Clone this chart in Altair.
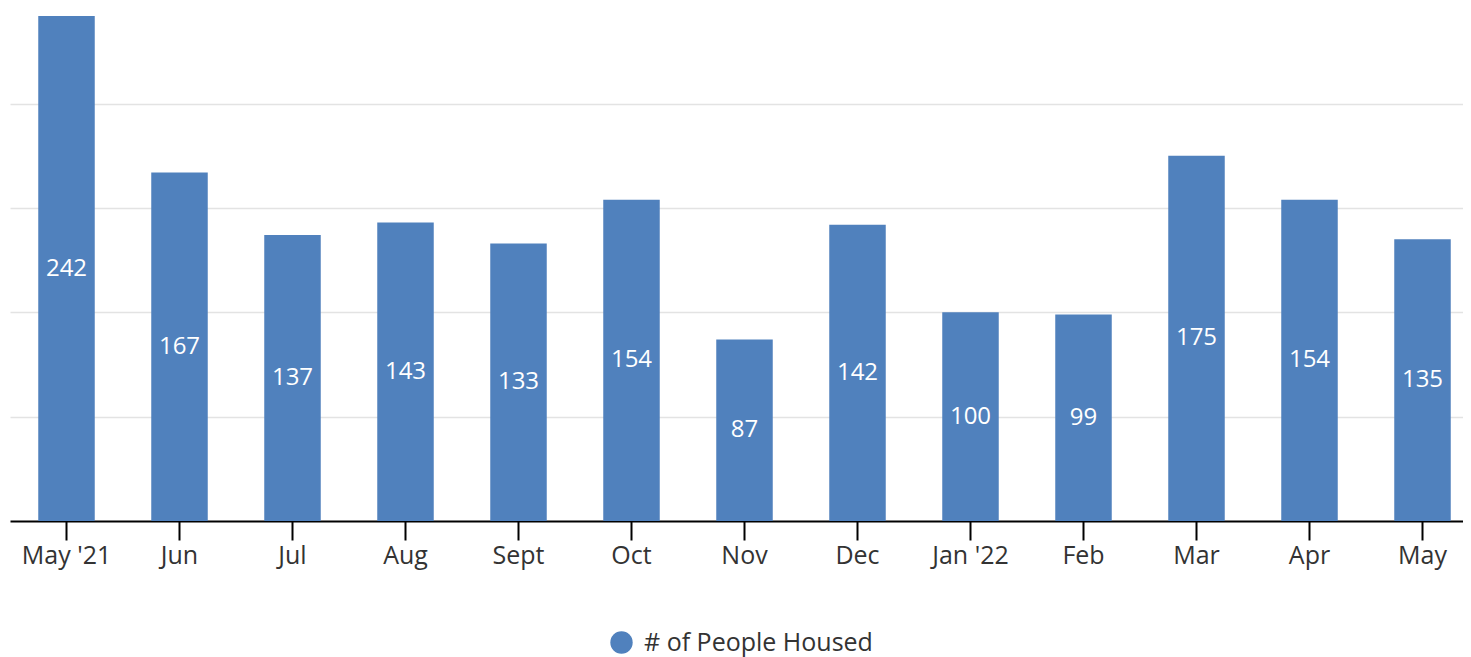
import altair as alt
import pandas as pd

months = ["May '21", "Jun", "Jul", "Aug", "Sept", "Oct", "Nov", "Dec",
          "Jan '22", "Feb", "Mar", "Apr", "May"]
housed = [242, 167, 137, 143, 133, 154, 87, 142, 100, 99, 175, 154, 135]
series_name = "# of People Housed"

df = pd.DataFrame({"month": months, "value": housed, "series": series_name})

FONT = "Open Sans"
BLUE = "#5081bd"

x = alt.X("month:N", sort=months, title=None,
          scale=alt.Scale(paddingInner=0.5, paddingOuter=0.25),
          axis=alt.Axis(labelAngle=0, labelFontSize=25, labelColor="#333333",
                        labelFont=FONT, labelPadding=3, tickSize=19,
                        tickColor="#000000", tickWidth=2, domainColor="#000000",
                        domainWidth=2, grid=False))
y = alt.Y("value:Q", title=None,
          scale=alt.Scale(domain=[0, 242], nice=False),
          axis=alt.Axis(values=[50, 100, 150, 200], labels=False, ticks=False,
                        domain=False, grid=True, gridColor="#e3e3e3",
                        gridWidth=1.5))

bars = alt.Chart(df).mark_bar().encode(
    x=x, y=y,
    color=alt.Color("series:N", title=None,
                    scale=alt.Scale(range=[BLUE]),
                    legend=alt.Legend(orient="none", legendX=599, legendY=614,
                                      symbolType="circle",
                                      symbolSize=500, labelFontSize=25,
                                      labelFont=FONT, labelColor="#333333",
                                      labelOffset=10, symbolStrokeWidth=0,
                                      labelLimit=400)),
)

labels = alt.Chart(df).transform_calculate(
    mid="datum.value / 2"
).mark_text(color="white", fontSize=24, font=FONT, baseline="middle").encode(
    x=alt.X("month:N", sort=months),
    y=alt.Y("mid:Q"),
    text="value:Q",
)

chart = alt.layer(bars, labels).properties(
    width=1469, height=505,
    autosize=alt.AutoSizeParams(type="none"),
    padding={"left": 2, "top": 8, "right": -16, "bottom": 136},
).configure(font=FONT).configure_view(stroke=None)

chart.save("out.html", embed_options={"renderer": "svg", "actions": False})
